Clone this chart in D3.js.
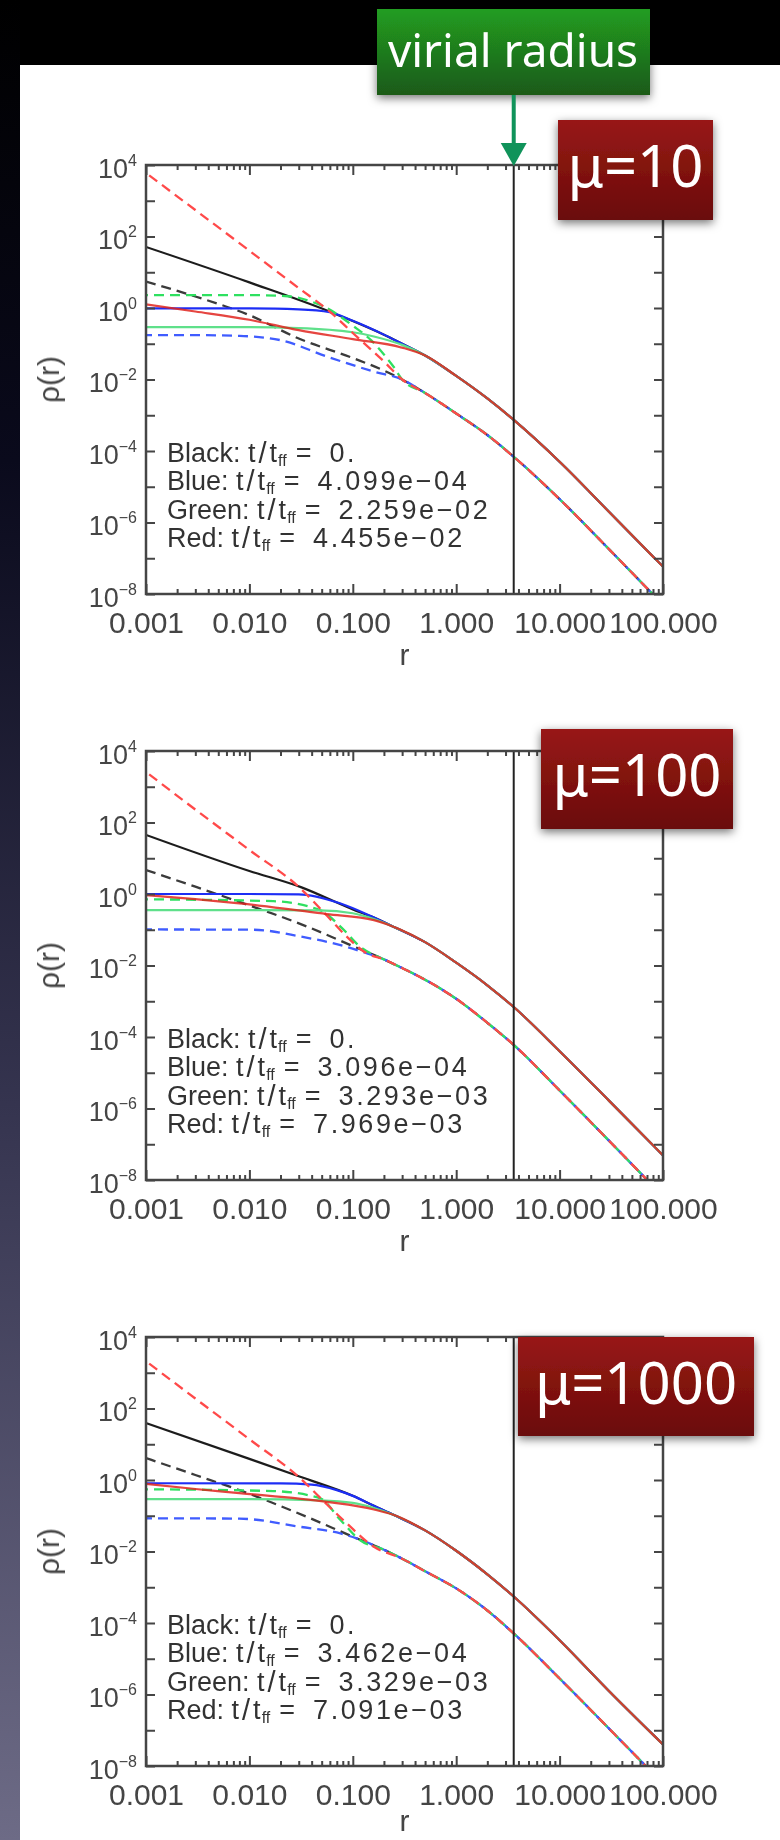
<!DOCTYPE html>
<html>
<head>
<meta charset="utf-8">
<script src="https://cdn.jsdelivr.net/npm/d3@7"></script>
<style>
  body { margin: 0; background: #000; }
  svg { display: block; }
</style>
</head>
<body>
<div id="chart"></div>
<script>
// ---- data ----
const xTickValues = [0.001, 0.01, 0.1, 1, 10, 100];
const xTickLabels = ["0.001", "0.010", "0.100", "1.000", "10.000", "100.000"];
const yLabelExps = [4, 2, 0, -2, -4, -6, -8];
const virialRadius = 3.6;
const muLabels = ["μ=10", "μ=100", "μ=1000"];
const seriesNames = ["Black", "Blue", "Green", "Red"];
const tRatio1 = ["0.", "4.099e−04", "2.259e−02", "4.455e−02"];
const tRatio2 = ["0.", "3.096e−04", "3.293e−03", "7.969e−03"];
const tRatio3 = ["0.", "3.462e−04", "3.329e−03", "7.091e−03"];

// panel 1 (mu=10): [r, rho]
const upper1 = [[0.5, 4.7e-2], [1, 1.26e-2], [2, 2.95e-3], [3.6, 7.4e-4], [10, 5.0e-5], [30, 2.0e-6], [100, 5.8e-8]];
const lower1 = [[0.2, 1.78e-2], [0.3, 1.0e-2], [0.5, 4.2e-3], [1, 1.12e-3], [2, 2.8e-4], [3.6, 6.9e-5], [10, 4.5e-6], [30, 1.8e-7], [100, 5.0e-9]];
const blackSolid1 = [[0.001, 51], [0.01, 5.2], [0.06, 0.79], [0.1, 0.43], [0.2, 0.178], [0.3, 0.1]];
const blueSolid1 = [[0.001, 0.98], [0.01, 0.97], [0.03, 0.91], [0.06, 0.76], [0.1, 0.44], [0.2, 0.18], [0.3, 0.1]];
const greenSolid1 = [[0.001, 0.29], [0.01, 0.29], [0.03, 0.275], [0.1, 0.21], [0.16, 0.16], [0.3, 0.093]];
const redSolid1 = [[0.001, 1.26], [0.003, 0.8], [0.01, 0.47], [0.03, 0.24], [0.1, 0.135], [0.3, 0.078]];
const blackDash1 = [[0.001, 5.5], [0.003, 2.1], [0.01, 0.63], [0.03, 0.14], [0.1, 0.04]];
const blueDash1 = [[0.001, 0.174], [0.003, 0.174], [0.008, 0.166], [0.02, 0.126], [0.056, 0.044], [0.16, 0.0166]];
const greenDash1 = [[0.001, 2.3], [0.01, 2.3], [0.025, 2.1], [0.04, 1.5], [0.056, 1.0], [0.1, 0.32], [0.15, 0.126], [0.2, 0.05], [0.25, 0.022]];
const redDash1 = [[0.001, 6.0e3], [0.003, 5.5e2], [0.01, 40], [0.03, 3.6], [0.06, 0.79], [0.1, 0.2], [0.2, 0.032]];

// panel 2 (mu=100)
const upper2 = [[0.25, 0.12], [0.5, 0.045], [1, 0.012], [2, 2.8e-3], [3.6, 6.9e-4], [10, 4.0e-5], [30, 1.66e-6], [100, 4.9e-8]];
const lower2 = [[0.1, 0.035], [0.2, 0.0148], [0.3, 0.0085], [0.5, 0.004], [1, 1.17e-3], [2, 2.5e-4], [3.6, 6.0e-5], [10, 3.2e-6], [30, 1.26e-7], [100, 3.5e-9]];
const blackSolid2 = [[0.001, 45], [0.01, 4.4], [0.031, 1.58], [0.1, 0.37], [0.16, 0.22]];
const blueSolid2 = [[0.001, 1.0], [0.01, 1.0], [0.03, 0.98], [0.075, 0.55], [0.16, 0.22]];
const greenSolid2 = [[0.001, 0.355], [0.01, 0.355], [0.048, 0.35], [0.1, 0.29], [0.16, 0.2]];
const redSolid2 = [[0.001, 0.93], [0.003, 0.72], [0.008, 0.55], [0.056, 0.275], [0.16, 0.186]];
const blackDash2 = [[0.001, 4.7], [0.003, 1.6], [0.008, 0.6], [0.036, 0.123]];
const blueDash2 = [[0.001, 0.102], [0.011, 0.1], [0.031, 0.065], [0.076, 0.037], [0.11, 0.027]];
const greenDash2 = [[0.001, 0.71], [0.017, 0.63], [0.048, 0.355], [0.076, 0.123], [0.117, 0.034]];
const redDash2 = [[0.001, 2.6e3], [0.003, 2.3e2], [0.01, 17], [0.031, 1.45], [0.056, 0.25], [0.087, 0.065], [0.136, 0.022]];

// panel 3 (mu=1000)
const upper3 = [[0.25, 0.105], [0.5, 0.039], [1, 0.0105], [2, 2.3e-3], [3.6, 5.5e-4], [10, 3.3e-5], [30, 1.26e-6], [100, 4.0e-8]];
const lower3 = [[0.1, 0.026], [0.2, 0.0112], [0.3, 6.3e-3], [0.5, 2.8e-3], [1, 9.3e-4], [2, 2.24e-4], [3.6, 5.1e-5], [10, 2.8e-6], [30, 1.12e-7], [100, 3.2e-9]];
const blackSolid3 = [[0.001, 39], [0.01, 3.9], [0.031, 1.23], [0.1, 0.36], [0.16, 0.19]];
const blueSolid3 = [[0.001, 0.81], [0.02, 0.8], [0.04, 0.74], [0.07, 0.52], [0.1, 0.36], [0.16, 0.19]];
const greenSolid3 = [[0.001, 0.29], [0.01, 0.29], [0.048, 0.27], [0.1, 0.23], [0.16, 0.165]];
const redSolid3 = [[0.001, 0.78], [0.003, 0.56], [0.008, 0.43], [0.056, 0.245], [0.16, 0.15]];
const blackDash3 = [[0.001, 4.1], [0.003, 1.38], [0.008, 0.52], [0.036, 0.093]];
const blueDash3 = [[0.001, 0.085], [0.008, 0.083], [0.031, 0.049], [0.076, 0.032], [0.11, 0.023]];
const greenDash3 = [[0.001, 0.55], [0.017, 0.49], [0.048, 0.31], [0.076, 0.076], [0.117, 0.021]];
const redDash3 = [[0.001, 2.1e3], [0.003, 1.9e2], [0.01, 13.8], [0.031, 1.12], [0.056, 0.21], [0.087, 0.062], [0.16, 0.0135]];

// ---- layout ----
const W = 780, H = 1840;
const frameLeft = 146, frameRight = 663, frameH = 429;
const panelTops = [165, 751, 1337];
const muBoxes = [
  { x: 558, y: 120, w: 155, h: 100 },
  { x: 541, y: 729, w: 192, h: 100 },
  { x: 518, y: 1337, w: 236, h: 99 }
];

const from = (tail, r0) => tail.filter(d => d[0] >= r0);

const panels = [
  {
    ratios: tRatio1,
    solid: [blackSolid1.concat(upper1), blueSolid1.concat(upper1), greenSolid1.concat(upper1), redSolid1.concat(upper1)],
    dashed: [blackDash1.concat(lower1), blueDash1.concat(from(lower1, 0.3)), greenDash1.concat(from(lower1, 0.3)), redDash1.concat(from(lower1, 0.3))]
  },
  {
    ratios: tRatio2,
    solid: [blackSolid2.concat(upper2), blueSolid2.concat(upper2), greenSolid2.concat(upper2), redSolid2.concat(upper2)],
    dashed: [blackDash2.concat(lower2), blueDash2.concat(from(lower2, 0.2)), greenDash2.concat(from(lower2, 0.2)), redDash2.concat(from(lower2, 0.2))]
  },
  {
    ratios: tRatio3,
    solid: [blackSolid3.concat(upper3), blueSolid3.concat(upper3), greenSolid3.concat(upper3), redSolid3.concat(upper3)],
    dashed: [blackDash3.concat(lower3), blueDash3.concat(from(lower3, 0.2)), greenDash3.concat(from(lower3, 0.2)), redDash3.concat(from(lower3, 0.3))]
  }
];

const solidColors = ["#1c1c1c", "#1f2ef5", "#5ee08a", "#e0241c"];
const dashColors = ["#3a3a3a", "#3f5cff", "#2fe060", "#ff4a4a"];
const dashOffsets = [0, 4, 8, 12];

const svg = d3.select("#chart").append("svg")
  .attr("width", W).attr("height", H)
  .attr("viewBox", "0 0 " + W + " " + H);

const defs = svg.append("defs");

const side = defs.append("linearGradient").attr("id", "sideGrad")
  .attr("x1", 0).attr("y1", 0).attr("x2", 0).attr("y2", 1);
side.append("stop").attr("offset", "0%").attr("stop-color", "#000");
side.append("stop").attr("offset", "25%").attr("stop-color", "#0a0a1c");
side.append("stop").attr("offset", "60%").attr("stop-color", "#35344f");
side.append("stop").attr("offset", "100%").attr("stop-color", "#6d6b86");

const green = defs.append("linearGradient").attr("id", "greenGrad")
  .attr("x1", 0).attr("y1", 0).attr("x2", 0).attr("y2", 1);
green.append("stop").attr("offset", "0%").attr("stop-color", "#219d21");
green.append("stop").attr("offset", "100%").attr("stop-color", "#1d5a19");

const red = defs.append("linearGradient").attr("id", "redGrad")
  .attr("x1", 0).attr("y1", 0).attr("x2", 0).attr("y2", 1);
red.append("stop").attr("offset", "0%").attr("stop-color", "#981916");
red.append("stop").attr("offset", "100%").attr("stop-color", "#6a0b08");

defs.append("filter").attr("id", "soft")
  .append("feGaussianBlur").attr("stdDeviation", 0.75);

const shadow = defs.append("filter").attr("id", "shadow")
  .attr("x", "-20%").attr("y", "-20%").attr("width", "140%").attr("height", "150%");
shadow.append("feDropShadow").attr("dx", 0).attr("dy", 3).attr("stdDeviation", 5)
  .attr("flood-color", "#000").attr("flood-opacity", 0.55);

// background
svg.append("rect").attr("width", W).attr("height", H).attr("fill", "#000");
svg.append("rect").attr("x", 0).attr("y", 0).attr("width", 20).attr("height", H).attr("fill", "url(#sideGrad)");
svg.append("rect").attr("x", 20).attr("y", 65).attr("width", W - 20).attr("height", H - 65).attr("fill", "#fff");

const x = d3.scaleLog().domain([0.001, 100]).range([frameLeft, frameRight]);
const isDecade = d => Math.abs(Math.log10(d) - Math.round(Math.log10(d))) < 1e-6;
const xMinor = x.ticks().filter(d => !isDecade(d));
const yDecades = d3.range(-8, 5).map(e => Math.pow(10, e));

function styleAxis(sel) {
  sel.attr("color", "#444").attr("font-family", "'Liberation Sans', Arial, sans-serif");
  sel.select(".domain").remove();
  sel.selectAll(".tick line").attr("stroke-width", 2);
}

panels.forEach((p, k) => {
  const top = panelTops[k];
  const y = d3.scaleLog().domain([1e-8, 1e4]).range([top + frameH, top]);
  const g = svg.append("g").attr("filter", "url(#soft)");

  const clipId = "clip" + k;
  defs.append("clipPath").attr("id", clipId)
    .append("rect").attr("x", frameLeft).attr("y", top)
    .attr("width", frameRight - frameLeft).attr("height", frameH);

  const line = d3.line()
    .x(d => x(d[0]))
    .y(d => y(d[1]))
    .curve(d3.curveMonotoneX);

  const curves = g.append("g").attr("clip-path", "url(#" + clipId + ")");
  [0, 1, 2, 3].forEach(i => {
    curves.append("path")
      .attr("d", line(p.dashed[i]))
      .attr("fill", "none")
      .attr("stroke", dashColors[i])
      .attr("stroke-width", 2.3)
      .attr("stroke-dasharray", "10,6")
      .attr("stroke-dashoffset", dashOffsets[i]);
    curves.append("path")
      .attr("d", line(p.solid[i]))
      .attr("fill", "none")
      .attr("stroke", solidColors[i])
      .attr("stroke-opacity", i === 3 ? 0.85 : 1)
      .attr("stroke-width", 2.2);
  });

  // virial radius line
  g.append("line")
    .attr("x1", x(virialRadius)).attr("x2", x(virialRadius))
    .attr("y1", top).attr("y2", top + frameH)
    .attr("stroke", "#222").attr("stroke-width", 2);

  // axes
  g.append("g").attr("transform", "translate(0," + (top + frameH) + ")")
    .call(d3.axisBottom(x).tickValues(xTickValues).tickSize(-10).tickPadding(18)
      .tickFormat((d, i) => xTickLabels[i]))
    .call(styleAxis)
    .call(s => s.selectAll("text").attr("font-size", 30).attr("fill", "#444"));
  g.append("g").attr("transform", "translate(0," + (top + frameH) + ")")
    .call(d3.axisBottom(x).tickValues(xMinor).tickSize(-5).tickFormat(""))
    .call(styleAxis);
  g.append("g").attr("transform", "translate(0," + top + ")")
    .call(d3.axisTop(x).tickValues(xTickValues).tickSize(-10).tickFormat(""))
    .call(styleAxis);
  g.append("g").attr("transform", "translate(0," + top + ")")
    .call(d3.axisTop(x).tickValues(xMinor).tickSize(-5).tickFormat(""))
    .call(styleAxis);
  g.append("g").attr("transform", "translate(" + frameRight + ",0)")
    .call(d3.axisRight(y).tickValues(yDecades).tickSize(-9).tickFormat(""))
    .call(styleAxis);

  const left = g.append("g").attr("transform", "translate(" + frameLeft + ",0)")
    .call(d3.axisLeft(y).tickValues(yDecades).tickSize(-9).tickPadding(9).tickFormat(""))
    .call(styleAxis);
  left.selectAll(".tick text").each(function(d) {
    const e = Math.round(Math.log10(d));
    if (!yLabelExps.includes(e)) return;
    const t = d3.select(this).attr("font-size", 27).attr("fill", "#444").attr("dy", "0.45em");
    t.append("tspan").text("10");
    t.append("tspan").attr("font-size", 16).attr("dy", -12)
      .text(e < 0 ? "−" + Math.abs(e) : String(e));
  });

  // frame
  g.append("rect")
    .attr("x", frameLeft).attr("y", top)
    .attr("width", frameRight - frameLeft).attr("height", frameH)
    .attr("fill", "none").attr("stroke", "#444").attr("stroke-width", 2.5);

  // axis titles
  g.append("text")
    .attr("x", (frameLeft + frameRight) / 2).attr("y", Math.min(top + frameH + 71, H - 9))
    .attr("text-anchor", "middle")
    .attr("font-family", "'Liberation Sans', Arial, sans-serif")
    .attr("font-size", 30).attr("fill", "#444")
    .text("r");
  g.append("text")
    .attr("transform", "translate(59," + (top + frameH / 2) + ") rotate(-90)")
    .attr("text-anchor", "middle")
    .attr("font-family", "'Liberation Sans', Arial, sans-serif")
    .attr("font-size", 30).attr("fill", "#444")
    .text("ρ(r)");

  // legend text
  seriesNames.forEach((name, i) => {
    const t = g.append("text")
      .attr("x", 167).attr("y", top + 297 + i * 28.4)
      .attr("font-family", "'Liberation Sans', Arial, sans-serif")
      .attr("font-size", 27).attr("fill", "#333");
    t.append("tspan").text(name + ": t");
    t.append("tspan").attr("font-size", 29).attr("dx", 3).attr("dy", 1).text("/");
    t.append("tspan").attr("dx", 3).attr("dy", -1).text("t");
    t.append("tspan").attr("font-size", 16).attr("dx", 1).attr("dy", 4).text("ff");
    t.append("tspan").attr("dx", 9).attr("dy", -4).text("=");
    t.append("tspan").attr("dx", 18).attr("letter-spacing", 2.6).text(p.ratios[i]);
  });

  // mu label box
  const b = muBoxes[k];
  svg.append("rect")
    .attr("x", b.x).attr("y", b.y).attr("width", b.w).attr("height", b.h)
    .attr("fill", "url(#redGrad)").attr("filter", "url(#shadow)");
  svg.append("text")
    .attr("x", b.x + b.w / 2).attr("y", b.y + 67)
    .attr("text-anchor", "middle")
    .attr("font-family", "'Noto Sans', 'Open Sans', sans-serif")
    .attr("font-size", 58).attr("fill", "#fff")
    .text(muLabels[k]);
});

// virial radius callout
svg.append("rect")
  .attr("x", 377).attr("y", 9).attr("width", 273).attr("height", 86)
  .attr("fill", "url(#greenGrad)").attr("filter", "url(#shadow)");
svg.append("text")
  .attr("x", 513).attr("y", 67)
  .attr("text-anchor", "middle")
  .attr("font-family", "'Noto Sans', 'Open Sans', sans-serif")
  .attr("font-size", 46).attr("fill", "#fff")
  .text("virial radius");

const ax = x(virialRadius);
svg.append("line")
  .attr("x1", ax).attr("x2", ax).attr("y1", 95).attr("y2", 145)
  .attr("stroke", "#10935a").attr("stroke-width", 4);
svg.append("path")
  .attr("d", d3.line()([[ax - 13, 143], [ax + 13, 143], [ax, 166]]) + "Z")
  .attr("fill", "#10935a");
</script>
</body>
</html>
